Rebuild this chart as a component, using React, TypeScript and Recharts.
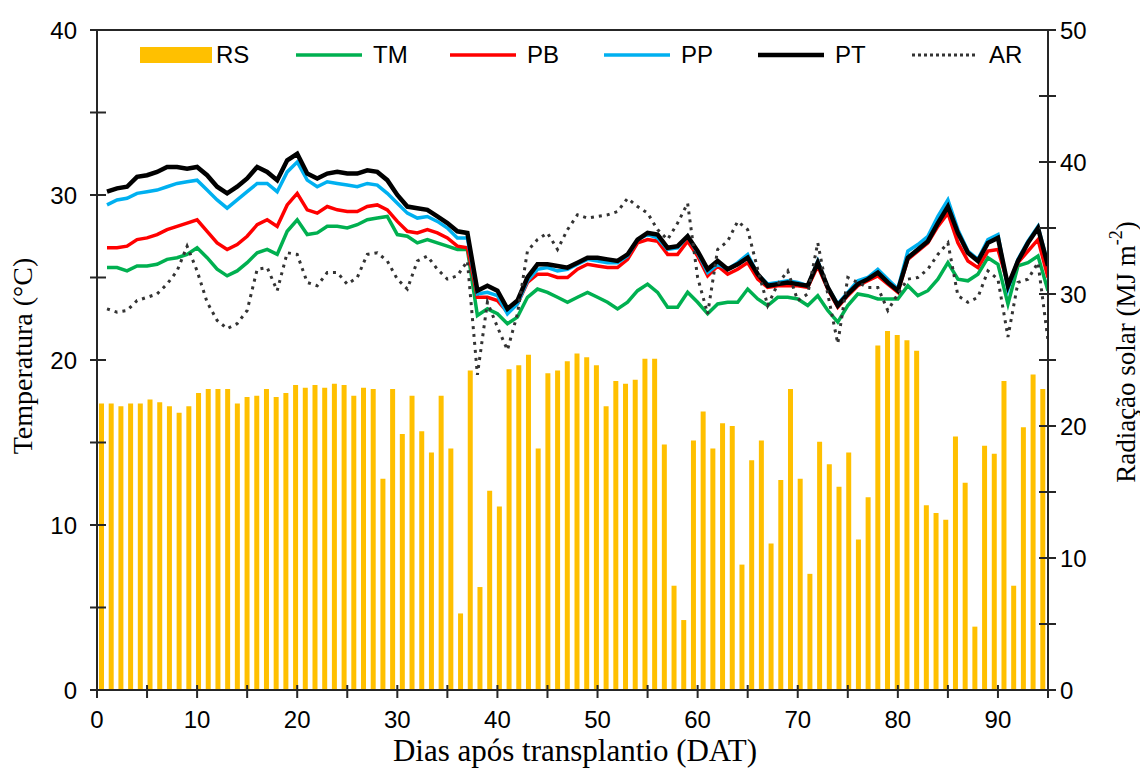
import React from 'react';
import { ComposedChart, Bar, Line, XAxis, YAxis, ReferenceLine, Legend, Label } from 'recharts';

// Daily solar radiation (MJ m-2), one bar per day of the period
const rsValues = [
  21.7, 21.7, 21.5, 21.7, 21.7, 22.0, 21.8, 21.5, 21.0, 21.5,
  22.5, 22.8, 22.8, 22.8, 21.7, 22.2, 22.3, 22.8, 22.2, 22.5,
  23.1, 22.9, 23.1, 22.9, 23.2, 23.1, 22.3, 22.9, 22.8, 16.0,
  22.8, 19.4, 22.3, 19.6, 18.0, 22.3, 18.3, 5.8, 24.2, 7.8,
  15.1, 13.9, 24.3, 24.6, 25.4, 18.3, 24.0, 24.2, 24.9, 25.5,
  25.2, 24.6, 21.5, 23.4, 23.2, 23.5, 25.1, 25.1, 18.6, 7.9,
  5.3, 18.9, 21.1, 18.3, 20.2, 20.0, 9.5, 17.4, 18.9, 11.1,
  15.9, 22.8, 16.0, 8.8, 18.8, 17.1, 15.4, 18.0, 11.4, 14.6,
  26.1, 27.2, 26.9, 26.5, 25.7, 14.0, 13.4, 12.9, 19.2, 15.7,
  4.8, 18.5, 17.9, 23.4, 7.9, 19.9, 23.9, 22.8,
];

// Days after transplanting for the temperature series
const days = [
  1, 2, 3, 4, 5, 6, 7, 8, 9, 10, 11, 12, 13, 14, 15, 16, 17, 18, 19, 20,
  21, 22, 23, 24, 25, 26, 27, 28, 29, 30, 31, 32, 33, 34, 35, 36, 37, 38, 39, 40,
  41, 42, 43, 44, 45, 46, 47, 48, 49, 50, 51, 52, 53, 54, 55, 56, 57, 58, 59, 60,
  61, 62, 63, 64, 65, 66, 67, 68, 69, 70, 71, 72, 73, 74, 75, 76, 77, 78, 79, 80,
  81, 82, 83, 84, 85, 86, 87, 88, 89, 90, 91, 92, 93, 94, 95,
];

const tmValues = [
  25.6, 25.6, 25.4, 25.7, 25.7, 25.8, 26.1, 26.2, 26.4, 26.8,
  26.2, 25.5, 25.1, 25.4, 25.9, 26.5, 26.7, 26.4, 27.8, 28.5,
  27.6, 27.7, 28.1, 28.1, 28.0, 28.2, 28.5, 28.6, 28.7, 27.6,
  27.5, 27.1, 27.3, 27.1, 26.9, 26.7, 26.7, 22.7, 23.1, 22.8,
  22.2, 22.6, 23.8, 24.3, 24.1, 23.8, 23.5, 23.8, 24.1, 23.8,
  23.5, 23.1, 23.5, 24.2, 24.6, 24.1, 23.2, 23.2, 24.1, 23.5,
  22.8, 23.4, 23.5, 23.5, 24.3, 23.7, 23.3, 23.8, 23.8, 23.7,
  23.3, 23.9, 23.0, 22.3, 23.3, 24.0, 23.9, 23.7, 23.7, 23.7,
  24.5, 23.9, 24.2, 24.9, 25.9, 24.9, 24.8, 25.2, 26.2, 25.8,
  23.4, 25.7, 25.9, 26.3, 24.2,
];

const pbValues = [
  26.8, 26.8, 26.9, 27.3, 27.4, 27.6, 27.9, 28.1, 28.3, 28.5,
  27.8, 27.1, 26.7, 27.0, 27.5, 28.2, 28.5, 28.1, 29.4, 30.1,
  29.1, 28.9, 29.3, 29.1, 29.0, 29.0, 29.3, 29.4, 29.1, 28.4,
  27.8, 27.7, 27.9, 27.7, 27.4, 26.9, 26.8, 23.8, 23.8, 23.6,
  22.9, 23.4, 24.7, 25.2, 25.2, 25.0, 25.0, 25.5, 25.8, 25.7,
  25.6, 25.6, 26.1, 27.1, 27.3, 27.2, 26.4, 26.4, 27.2, 26.3,
  25.1, 25.7, 25.2, 25.5, 25.9, 24.9, 24.4, 24.5, 24.5, 24.5,
  24.4, 25.7, 24.3, 23.2, 23.9, 24.5, 24.8, 25.1, 24.6, 24.1,
  26.1, 26.6, 27.1, 28.1, 28.9, 27.1, 26.0, 25.6, 26.6, 26.7,
  24.6, 25.9, 26.6, 27.3, 25.0,
];

const ppValues = [
  29.4, 29.7, 29.8, 30.1, 30.2, 30.3, 30.5, 30.7, 30.8, 30.9,
  30.3, 29.7, 29.2, 29.7, 30.2, 30.7, 30.7, 30.2, 31.4, 32.0,
  30.9, 30.5, 30.8, 30.7, 30.6, 30.5, 30.7, 30.6, 30.1, 29.5,
  28.9, 28.6, 28.7, 28.4, 28.0, 27.4, 27.4, 24.0, 24.1, 23.9,
  22.8, 23.4, 24.8, 25.5, 25.6, 25.4, 25.5, 25.8, 26.1, 26.0,
  25.9, 25.9, 26.3, 27.3, 27.6, 27.4, 26.7, 26.8, 27.5, 26.5,
  25.3, 25.8, 25.5, 25.9, 26.4, 25.2, 24.6, 24.7, 24.8, 24.7,
  24.5, 26.0, 24.4, 23.4, 24.1, 24.8, 25.0, 25.5, 24.9, 24.3,
  26.6, 27.0, 27.5, 28.7, 29.7, 27.9, 26.6, 26.1, 27.3, 27.6,
  24.3, 26.1, 27.2, 28.1, 25.8,
];

const ptValues = [
  30.2, 30.4, 30.5, 31.1, 31.2, 31.4, 31.7, 31.7, 31.6, 31.7,
  31.2, 30.5, 30.1, 30.5, 31.0, 31.7, 31.4, 30.9, 32.1, 32.5,
  31.3, 31.0, 31.3, 31.4, 31.3, 31.3, 31.5, 31.4, 30.9, 30.0,
  29.3, 29.2, 29.1, 28.7, 28.3, 27.8, 27.7, 24.2, 24.5, 24.2,
  23.1, 23.6, 25.0, 25.8, 25.8, 25.7, 25.6, 25.9, 26.2, 26.2,
  26.1, 26.0, 26.4, 27.3, 27.7, 27.6, 26.8, 26.9, 27.5, 26.6,
  25.5, 26.0, 25.5, 25.8, 26.2, 25.2, 24.5, 24.6, 24.7, 24.6,
  24.5, 25.9, 24.4, 23.3, 24.0, 24.6, 24.9, 25.3, 24.7, 24.2,
  26.2, 26.7, 27.2, 28.3, 29.3, 27.7, 26.5, 26.0, 27.1, 27.4,
  24.5, 26.0, 27.1, 28.0, 25.7,
];

const arValues = [
  23.1, 22.9, 23.0, 23.6, 23.8, 24.0, 24.6, 25.4, 26.9, 25.4,
  23.5, 22.4, 21.9, 22.2, 23.0, 25.5, 25.6, 24.2, 26.5, 26.4,
  24.7, 24.5, 25.3, 25.3, 24.6, 25.0, 26.4, 26.5, 26.0, 24.9,
  24.3, 26.0, 26.3, 25.5, 24.9, 25.1, 26.0, 19.1, 23.5, 22.0,
  20.6, 22.8, 26.6, 27.3, 27.7, 26.7, 27.9, 28.8, 28.6, 28.7,
  28.8, 29.0, 29.8, 29.3, 28.9, 27.9, 27.3, 28.3, 29.5, 25.0,
  22.8, 26.7, 27.2, 28.4, 27.9, 25.5, 23.3, 24.6, 25.4, 23.6,
  24.0, 27.1, 24.0, 21.0, 25.0, 24.7, 24.4, 24.4, 23.0, 24.0,
  24.9, 25.0, 25.5, 26.4, 27.1, 23.9, 23.5, 23.8, 25.4, 24.9,
  21.4, 24.7, 24.9, 25.9, 21.2,
];

const dayTicks = [0, 5, 10, 15, 20, 25, 30, 35, 40, 45, 50, 55, 60, 65, 70, 75, 80, 85, 90, 95];
const tempTicks = [0, 5, 10, 15, 20, 25, 30, 35, 40];
const radTicks = [0, 5, 10, 15, 20, 25, 30, 35, 40, 45, 50];

const barRows = rsValues.map((rs, i) => ({ idx: i + 1, rs }));
const lineRows = days.map((day, i) => ({
  day,
  tm: tmValues[i],
  pb: pbValues[i],
  pp: ppValues[i],
  pt: ptValues[i],
  ar: arValues[i],
}));

const CHART_W = 1140;
const CHART_H = 769;
const AXIS = '#262626';
const SANS = '"Liberation Sans", Arial, sans-serif';
const SERIF = '"Liberation Serif", "Times New Roman", serif';
const TICK_FONT = 24;

const legendItems = [
  { label: 'RS', color: '#FFC000', kind: 'bar' },
  { label: 'TM', color: '#00B050', kind: 'line' },
  { label: 'PB', color: '#FF0000', kind: 'line' },
  { label: 'PP', color: '#00B0F0', kind: 'line' },
  { label: 'PT', color: '#000000', kind: 'line' },
  { label: 'AR', color: '#333333', kind: 'dot' },
];

function LeftTick(props: any) {
  const { x, y, payload } = props;
  const v = payload.value;
  return (
    <g>
      <line x1={x - 7} x2={x + 9} y1={y} y2={y} stroke={AXIS} strokeWidth={2} />
      {v % 10 === 0 && (
        <text x={x - 20} y={y + 9} textAnchor="end" fontFamily={SANS} fontSize={TICK_FONT} fill="#000">
          {v}
        </text>
      )}
    </g>
  );
}

function RightTick(props: any) {
  const { x, y, payload } = props;
  const v = payload.value;
  return (
    <g>
      <line x1={x - 9} x2={x + 8} y1={y} y2={y} stroke={AXIS} strokeWidth={2} />
      {v % 10 === 0 && (
        <text x={x + 12} y={y + 9} textAnchor="start" fontFamily={SANS} fontSize={TICK_FONT} fill="#000">
          {v}
        </text>
      )}
    </g>
  );
}

function BottomTick(props: any) {
  const { x, y, payload } = props;
  const v = payload.value;
  return (
    <g>
      <line x1={x} x2={x} y1={y - 5} y2={y + 8} stroke={AXIS} strokeWidth={2} />
      {v % 10 === 0 && (
        <text x={x} y={y + 38} textAnchor="middle" fontFamily={SANS} fontSize={TICK_FONT} fill="#000">
          {v}
        </text>
      )}
    </g>
  );
}

function LeftTitle(props: any) {
  const { viewBox } = props;
  const cx = viewBox.x + 22;
  const cy = viewBox.y + viewBox.height / 2 - 4;
  return (
    <text
      x={cx}
      y={cy}
      transform={`rotate(-90 ${cx} ${cy})`}
      textAnchor="middle"
      dominantBaseline="central"
      fontFamily={SERIF}
      fontSize={28}
      fill="#000"
    >
      Temperatura (°C)
    </text>
  );
}

function RightTitle(props: any) {
  const { viewBox } = props;
  const cx = viewBox.x + 78;
  const cy = viewBox.y + viewBox.height / 2 - 8;
  return (
    <text
      x={cx}
      y={cy}
      transform={`rotate(-90 ${cx} ${cy})`}
      textAnchor="middle"
      dominantBaseline="central"
      fontFamily={SERIF}
      fontSize={27}
      fill="#000"
    >
      Radiação solar (MJ m
      <tspan baselineShift="super" fontSize={18}>-2</tspan>
      )
    </text>
  );
}

// x-axis title sits at the bottom edge of the chart, under the tick labels
function BottomTitle() {
  return (
    <text
      x={CHART_W / 2 + 5}
      y={CHART_H - 8}
      textAnchor="middle"
      fontFamily={SERIF}
      fontSize={31}
      fill="#000"
    >
      Dias após transplantio (DAT)
    </text>
  );
}

function LegendContent() {
  return (
    <div style={{ display: 'flex', alignItems: 'center', fontFamily: SANS, fontSize: 24, color: '#000' }}>
      {legendItems.map((item) => (
        <div key={item.label} style={{ display: 'flex', alignItems: 'center', width: 154 }}>
          <svg width={72} height={20} style={{ display: 'block' }}>
            {item.kind === 'bar' && <rect x={0} y={2} width={72} height={16} fill={item.color} />}
            {item.kind === 'line' && (
              <line x1={2} x2={68} y1={10} y2={10} stroke={item.color} strokeWidth={item.label === 'PT' ? 4.5 : 3.5} />
            )}
            {item.kind === 'dot' && (
              <line x1={2} x2={68} y1={10} y2={10} stroke={item.color} strokeWidth={3} strokeDasharray="3 3" />
            )}
          </svg>
          <span style={{ marginLeft: item.kind === 'bar' ? 4 : 7 }}>{item.label}</span>
        </div>
      ))}
    </div>
  );
}

export default function App() {
  return (
    <div style={{ position: 'absolute', left: 0, top: 0, width: CHART_W, height: CHART_H, overflow: 'hidden', background: '#fff' }}>
      <ComposedChart
        width={CHART_W}
        height={CHART_H}
        data={barRows}
        margin={{ top: 30, right: 0, bottom: 0, left: 0 }}
      >
        <XAxis
          xAxisId="day"
          dataKey="day"
          type="number"
          domain={[0, 95]}
          ticks={dayTicks}
          interval={0}
          allowDataOverflow
          height={79}
          tickSize={0}
          tickMargin={0}
          tickLine={false}
          tick={<BottomTick />}
          axisLine={{ stroke: AXIS, strokeWidth: 2 }}
        >
          <Label content={<BottomTitle />} />
        </XAxis>
        <XAxis xAxisId="bar" dataKey="idx" type="category" hide height={0} />
        <YAxis
          yAxisId="temp"
          orientation="left"
          domain={[0, 40]}
          ticks={tempTicks}
          interval={0}
          width={97}
          tickSize={0}
          tickMargin={0}
          tickLine={false}
          tick={<LeftTick />}
          axisLine={{ stroke: AXIS, strokeWidth: 2 }}
        >
          <Label content={<LeftTitle />} />
        </YAxis>
        <YAxis
          yAxisId="rad"
          orientation="right"
          domain={[0, 50]}
          ticks={radTicks}
          interval={0}
          width={92}
          tickSize={0}
          tickMargin={0}
          tickLine={false}
          tick={<RightTick />}
          axisLine={{ stroke: AXIS, strokeWidth: 2 }}
        >
          <Label content={<RightTitle />} />
        </YAxis>
        <ReferenceLine xAxisId="day" yAxisId="temp" y={40} stroke={AXIS} strokeWidth={2} />
        <Bar xAxisId="bar" yAxisId="rad" dataKey="rs" fill="#FFC000" barSize={5} isAnimationActive={false} />
        <Line data={lineRows} xAxisId="day" yAxisId="temp" dataKey="tm" stroke="#00B050" strokeWidth={3.5} dot={false} isAnimationActive={false} />
        <Line data={lineRows} xAxisId="day" yAxisId="temp" dataKey="pb" stroke="#FF0000" strokeWidth={3.5} dot={false} isAnimationActive={false} />
        <Line data={lineRows} xAxisId="day" yAxisId="temp" dataKey="pp" stroke="#00B0F0" strokeWidth={3.5} dot={false} isAnimationActive={false} />
        <Line data={lineRows} xAxisId="day" yAxisId="temp" dataKey="pt" stroke="#000000" strokeWidth={4.5} dot={false} isAnimationActive={false} />
        <Line data={lineRows} xAxisId="day" yAxisId="temp" dataKey="ar" stroke="#333333" strokeWidth={3} strokeDasharray="3 5" dot={false} isAnimationActive={false} />
        <Legend
          layout="horizontal"
          verticalAlign="middle"
          align="center"
          content={<LegendContent />}
          wrapperStyle={{ top: 41, left: 140, width: 940 }}
        />
      </ComposedChart>
    </div>
  );
}
